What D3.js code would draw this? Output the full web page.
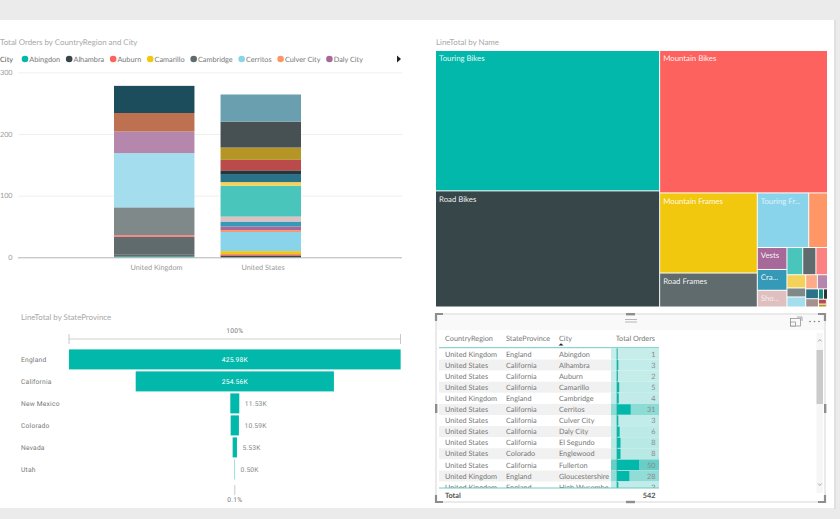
<!DOCTYPE html>
<html>
<head>
<meta charset="utf-8">
<script src="https://cdn.jsdelivr.net/npm/d3@7/dist/d3.min.js"></script>
<style>
html,body{margin:0;padding:0;background:#ebebeb;}
svg{display:block;text-rendering:geometricPrecision;}
text{font-family:Lato,"Open Sans",sans-serif;}
.din{font-family:Roboto,sans-serif;letter-spacing:.2px;}
</style>
</head>
<body>
<svg id="c" width="840" height="519"></svg>
<script>
// ---------- stacked column ----------
const countries = ["United Kingdom","United States"];
const cities = ["Abingdon","Alhambra","Auburn","Camarillo","Cambridge","Cerritos","Culver City","Daly City","El Segundo","Englewood","Fullerton","Gloucestershire","High Wycombe","c14","c15","c16","c17","c18","c19","c20","c21","c22","c23","c24","c25","c26","c27","c28","c29"];
const ukOrders = [1,0,0,0,4,0,0,0,0,0,0,28,3,0,45,88,0,35,0,0,0,0,0,0,0,0,30,0,44];
const usOrders = [0,3,2,5,0,31,3,6,8,8,50,0,0,6,0,0,0,0,13,0,0,6,17,20,42,44,0,0,0];
const legendCount = 8;
const orderTicks = [0,100,200,300];
const palette = ["#01B8AA","#374649","#FD625E","#F2C80F","#5F6B6D","#8AD4EB","#FE9666","#A66999","#3599B8","#DFBFBF","#4AC5BB","#5F6B6D","#FB8281","#F4D25A","#7F898A","#A4DDEE","#FDAB89","#B687AC","#28738A","#A78F8F","#168980","#293537","#BB4A4A","#B59525","#475052","#6A9FB0","#BD7150","#7B4F71","#1B4D5C"];

// ---------- treemap ----------
const productNames = ["Touring Bikes","Road Bikes","Mountain Bikes","Mountain Frames","Road Frames","Touring Fr...","","Vests","Cra...","Sho...","","","","","","","","","","","","","","",""];
const productValues = [28550,23620,21690,7100,3010,2550,930,590,560,450,390,325,286,225,153,171,150,130,114,96,47,38,35,21,8];
const productColors = ["#01B8AA","#374649","#FD625E","#F2C80F","#5F6B6D","#8AD4EB","#FE9666","#A66999","#3599B8","#DFBFBF","#4AC5BB","#5F6B6D","#FB8281","#F4D25A","#7F898A","#A4DDEE","#FDAB89","#B687AC","#28738A","#A78F8F","#168980","#293537","#BB4A4A","#B59525","#475052"];
// nesting of product indices; levels alternate between side-by-side and stacked
const productNesting = [[0,1],[2,[[3,4],[[5,6],[[7,8,9],[[10,11,12],[[13,14,15],[[16,17],[[18,19],[[20,21],[[22,23],24]]]]]]]]]]];

// ---------- funnel ----------
const states = ["England","California","New Mexico","Colorado","Nevada","Utah"];
const stateTotals = [425.98,254.56,11.53,10.59,5.53,0.50];

// ---------- table ----------
const tableColumns = ["CountryRegion","StateProvince","City","Total Orders"];
const rowCountry = ["United Kingdom","United States","United States","United States","United Kingdom","United States","United States","United States","United States","United States","United States","United Kingdom","United Kingdom"];
const rowState = ["England","California","California","California","England","California","California","California","California","Colorado","California","England","England"];
const rowCity = ["Abingdon","Alhambra","Auburn","Camarillo","Cambridge","Cerritos","Culver City","Daly City","El Segundo","Englewood","Fullerton","Gloucestershire","High Wycombe"];
const rowOrders = [1,3,2,5,4,31,3,6,8,8,50,28,3];
const totalOrders = 542;

const svg = d3.select("#c");
svg.append("rect").attr("x",834).attr("y",20).attr("width",2).attr("height",489).attr("fill","#e0e0e0");
svg.append("rect").attr("x",0).attr("y",20).attr("width",834).attr("height",488).attr("fill","#fff");

const titleCol="#a8a8a8", tickCol="#9a9a9a", fs=7.3, din=6.7;
function title(x,y,t){svg.append("text").attr("x",x).attr("y",y).attr("font-size",7.9).attr("fill",titleCol).text(t);}

// ===== Stacked columns =====
title(0,45,"Total Orders by CountryRegion and City");
const yO = d3.scaleLinear().domain([0,300]).range([257.3,72.3]);
const xC = d3.scaleBand().domain(countries).range([114,301]).paddingInner(0.245);
const gridG = svg.append("g");
gridG.selectAll("line").data(orderTicks).join("line")
  .attr("x1",18).attr("x2",402).attr("y1",d=>yO(d)+.5).attr("y2",d=>yO(d)+.5)
  .attr("stroke",d=>d===0?"#b4b4b4":"#efefef").attr("stroke-width",1);
const yAxis = svg.append("g").attr("transform","translate(12.5,0)").call(d3.axisLeft(yO).tickValues(orderTicks).tickSize(0).tickPadding(0));
yAxis.select(".domain").remove();
yAxis.selectAll("text").attr("font-size",7.2).attr("fill",tickCol).attr("font-family",'Lato,sans-serif');
const stackRows = countries.map((c,i)=>{const o={country:c};cities.forEach((k,j)=>o[k]=(i?usOrders:ukOrders)[j]);return o;});
const series = d3.stack().keys(cities)(stackRows);
svg.append("g").selectAll("g").data(series).join("g").attr("fill",(d,i)=>palette[i])
  .selectAll("rect").data(d=>d.filter(s=>s[1]>s[0])).join("rect")
  .attr("x",d=>xC(d.data.country)).attr("width",xC.bandwidth())
  .attr("y",d=>yO(d[1])).attr("height",d=>yO(d[0])-yO(d[1]));
const xAxis = svg.append("g").attr("transform","translate(2.3,257.5)").call(d3.axisBottom(xC).tickSize(0).tickPadding(7.5));
xAxis.select(".domain").remove();
xAxis.selectAll("text").attr("font-size",fs).attr("fill",tickCol).attr("font-family",'Lato,sans-serif');

// legend
svg.append("text").attr("x",0).attr("y",62).attr("font-size",fs).attr("fill","#555").text("City");
let lx = 25;
cities.slice(0,legendCount).forEach((c,i)=>{
  svg.append("circle").attr("cx",lx).attr("cy",59).attr("r",3.3).attr("fill",palette[i]);
  const t = svg.append("text").attr("x",lx+4.3).attr("y",61.6).attr("font-size",fs).attr("fill","#777").text(c);
  lx += 4.3 + t.node().getComputedTextLength() + 9;
});
svg.append("path").attr("d",d3.line()([[397,55.5],[401,59],[397,62.5]])+"Z").attr("fill","#222");

// ===== Treemap =====
title(436,45,"LineTotal by Name");
const alternate = (node,x0,y0,x1,y1)=> (node.depth%2===0?d3.treemapDice:d3.treemapSlice)(node,x0,y0,x1,y1);
const hier = d3.hierarchy(productNesting,d=>Array.isArray(d)?d:null).sum(d=>Array.isArray(d)?0:productValues[d]);
d3.treemap().tile(alternate).size([391,255.5]).paddingInner(1).round(false)(hier);
const tm = svg.append("g").attr("transform","translate(436,51)");
const leaves = tm.selectAll("g").data(hier.leaves()).join("g").attr("transform",d=>`translate(${d.x0},${d.y0})`);
leaves.append("rect").attr("width",d=>d.x1-d.x0).attr("height",d=>d.y1-d.y0).attr("fill",d=>productColors[d.data]);
leaves.filter(d=>productNames[d.data]).append("text").attr("x",3).attr("y",10.3).attr("font-size",7.8).attr("fill","#fff").attr("fill-opacity",d=>productNames[d.data]==="Sho..."||productNames[d.data]==="Touring Fr..."?.75:.95).text(d=>productNames[d.data]);

// ===== Funnel =====
title(21,320,"LineTotal by StateProvince");
const centerX = 234.8;
const wF = d3.scaleLinear().domain([0,stateTotals[0]]).range([0,331.7]);
const yF = d3.scaleBand().domain(states).range([348.4,480.4]).paddingInner(0.09).paddingOuter(0.045);
const fmt = d=>d3.format(".2f")(d)+"K";
svg.append("text").attr("x",centerX).attr("y",333).attr("text-anchor","middle").attr("font-size",din).attr("fill","#777").attr("class","din").text("100%");
const lineCol="#cfcfcf";
svg.append("line").attr("x1",69).attr("x2",400.5).attr("y1",339).attr("y2",339).attr("stroke",lineCol);
[69,400.5].forEach(x=>svg.append("line").attr("x1",x).attr("x2",x).attr("y1",334).attr("y2",344).attr("stroke","#bbb").attr("stroke-width",.8));
svg.append("line").attr("x1",centerX).attr("x2",centerX).attr("y1",485).attr("y2",495).attr("stroke","#bbb").attr("stroke-width",.8);
svg.append("text").attr("x",centerX).attr("y",502).attr("text-anchor","middle").attr("font-size",din).attr("fill","#777").attr("class","din").text("0.1%");
const fg = svg.append("g");
fg.selectAll("rect").data(states).join("rect")
  .attr("x",(d,i)=>centerX-wF(stateTotals[i])/2).attr("width",(d,i)=>wF(stateTotals[i]))
  .attr("y",d=>yF(d)).attr("height",yF.bandwidth()).attr("fill","#01B8AA");
fg.selectAll("text.cat").data(states).join("text").attr("class","din cat").attr("x",21)
  .attr("y",d=>yF(d)+yF.bandwidth()/2+2.5).attr("font-size",din).attr("fill","#777").text(d=>d);
fg.selectAll("text.val").data(states).join("text").attr("class","din val")
  .attr("x",(d,i)=>stateTotals[i]>100?centerX:centerX+wF(stateTotals[i])/2+5.5)
  .attr("text-anchor",(d,i)=>stateTotals[i]>100?"middle":"start")
  .attr("y",d=>yF(d)+yF.bandwidth()/2+2.5).attr("font-size",din)
  .attr("fill",(d,i)=>stateTotals[i]>100?"#fff":"#888").text((d,i)=>fmt(stateTotals[i]));

// ===== Table =====
const tb = svg.append("g");
tb.append("rect").attr("x",436).attr("y",314).attr("width",389).attr("height",188).attr("fill","#fff").attr("stroke","#d6d6d6").attr("stroke-width",1);
tb.append("rect").attr("x",437).attr("y",315).attr("width",387).attr("height",15).attr("fill","#f9f9f9");
// chrome
[[625,319.5],[625,322]].forEach(p=>tb.append("line").attr("x1",p[0]).attr("x2",p[0]+12).attr("y1",p[1]).attr("y2",p[1]).attr("stroke","#9b9b9b").attr("stroke-width",.7));
tb.append("rect").attr("x",790.5).attr("y",318.5).attr("width",10).attr("height",7.5).attr("fill","none").attr("stroke","#888").attr("stroke-width",.7);
tb.append("rect").attr("x",790.5).attr("y",322).attr("width",5).attr("height",4).attr("fill","#f9f9f9").attr("stroke","#888").attr("stroke-width",.7);
tb.append("path").attr("d",d3.line()([[797,317],[802,317],[802,321]])).attr("fill","none").attr("stroke","#888").attr("stroke-width",.7);
[810,814.5,819].forEach(x=>tb.append("circle").attr("cx",x).attr("cy",321.5).attr("r",.8).attr("fill","#777"));
const handle="#8e8e8e";
[[436,314,1,1],[825,314,-1,1],[436,502,1,-1],[825,502,-1,-1]].forEach(([x,y,a,b])=>{
  tb.append("path").attr("d",d3.line()([[x+a*7,y],[x,y],[x,y+b*7]])).attr("fill","none").attr("stroke",handle).attr("stroke-width",2.2);
});
tb.append("rect").attr("x",626).attr("y",313).attr("width",9).attr("height",2.4).attr("fill",handle);
tb.append("rect").attr("x",626).attr("y",500.8).attr("width",9).attr("height",2.4).attr("fill",handle);
tb.append("rect").attr("x",435).attr("y",404).attr("width",2.4).attr("height",9).attr("fill",handle);
tb.append("rect").attr("x",824).attr("y",404).attr("width",2.4).attr("height",9).attr("fill",handle);
// scrollbar
tb.append("rect").attr("x",816.5).attr("y",333).attr("width",6.5).attr("height",160).attr("fill","#f6f6f6");
tb.append("rect").attr("x",816.5).attr("y",350).attr("width",6.5).attr("height",54).attr("fill","#cbcbcb");
tb.append("path").attr("d",d3.line()([[818,341.5],[819.8,339.5],[821.6,341.5]])).attr("fill","none").attr("stroke","#888").attr("stroke-width",.7);
tb.append("path").attr("d",d3.line()([[818,483.5],[819.8,485.5],[821.6,483.5]])).attr("fill","none").attr("stroke","#888").attr("stroke-width",.7);

const colX = [445,506,559];
const tcol="#777";
tableColumns.slice(0,3).forEach((c,i)=>tb.append("text").attr("x",colX[i]).attr("y",341).attr("font-size",fs).attr("fill",tcol).text(c));
tb.append("text").attr("x",655).attr("y",341).attr("text-anchor","end").attr("font-size",fs).attr("fill",tcol).text(tableColumns[3]);
tb.append("path").attr("d",d3.line()([[558.5,345.6],[561,343.2],[563.5,345.6]])+"Z").attr("fill","#222");

const clip = svg.append("defs").append("clipPath").attr("id","rows");
clip.append("rect").attr("x",438).attr("y",348).attr("width",222).attr("height",140);
const yR = d3.scaleBand().domain(d3.range(rowCity.length)).range([348.4,348.4+11.1*rowCity.length]);
const xB = d3.scaleLinear().domain([0,50]).range([617,639]);
const tint = d3.scaleLinear().domain([1,50]).range(["#c6edea","#67cfc7"]);
const rowsG = tb.append("g").attr("clip-path","url(#rows)");
const rows = rowsG.selectAll("g").data(rowCity).join("g").attr("transform",(d,i)=>`translate(0,${yR(i)})`);
rows.append("rect").attr("x",439).attr("width",172).attr("height",yR.bandwidth()).attr("fill",(d,i)=>i%2?"#f1f1f1":"#fff");
rows.append("rect").attr("x",611).attr("width",48).attr("height",yR.bandwidth()).attr("fill",(d,i)=>tint(rowOrders[i]));
rows.append("rect").attr("x",xB(0)).attr("y",.5).attr("width",(d,i)=>xB(rowOrders[i])-xB(0)).attr("height",yR.bandwidth()-1).attr("fill","#01B8AA");
[rowCountry,rowState,rowCity].forEach((arr,c)=>rows.append("text").attr("x",colX[c]).attr("y",8.2).attr("font-size",fs).attr("fill",tcol).text((d,i)=>arr[i]));
rows.append("text").attr("x",655.5).attr("y",8.2).attr("text-anchor","end").attr("font-size",fs).attr("fill","#8a8a8a").text((d,i)=>rowOrders[i]);
rowsG.append("line").attr("x1",617).attr("x2",617).attr("y1",348).attr("y2",488).attr("stroke","#2fa69d").attr("stroke-width",.7);
tb.append("line").attr("x1",439).attr("x2",659).attr("y1",347.7).attr("y2",347.7).attr("stroke","#5fc4bc").attr("stroke-width",.9);
tb.append("line").attr("x1",439).attr("x2",659).attr("y1",488).attr("y2",488).attr("stroke","#5fc4bc").attr("stroke-width",.9);
tb.append("text").attr("x",445).attr("y",497.5).attr("font-size",fs).attr("font-weight",700).attr("fill","#555").text("Total");
tb.append("text").attr("x",655.5).attr("y",497.5).attr("text-anchor","end").attr("font-size",fs).attr("font-weight",700).attr("fill","#555").text(totalOrders);
</script>
</body>
</html>
